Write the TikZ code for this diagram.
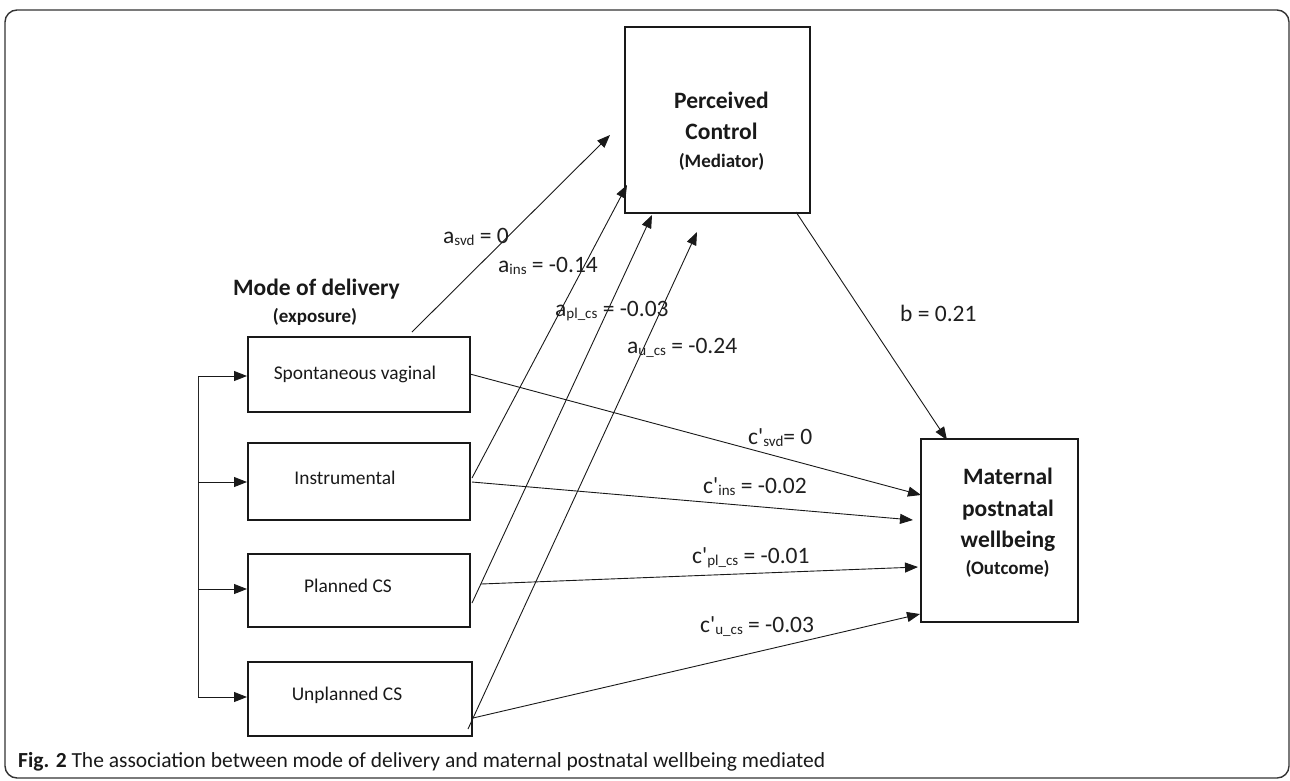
\documentclass[tikz,border=0pt]{standalone}
\usepackage{fontspec}
\setmainfont{Carlito}
\usetikzlibrary{arrows.meta}
\newcommand{\mysub}[1]{\raisebox{-2.5pt}{\fontsize{15}{15}\selectfont #1}}
\tikzset{
  box/.style={draw=black!90, line width=2pt, inner sep=0pt},
  conn/.style={draw=black!90, line width=0.9pt, -{Triangle[length=13pt,width=10pt]}},
  lab/.style={anchor=base west, inner sep=0pt, font=\fontsize{23.5}{28}\selectfont, text=black!88},
  head/.style={anchor=base, inner sep=0pt, font=\bfseries\fontsize{23.5}{28}\selectfont, text=black!90},
  subhead/.style={anchor=base, inner sep=0pt, font=\bfseries\fontsize{19}{23}\selectfont, text=black!90},
  boxtext/.style={anchor=base, inner sep=0pt, font=\fontsize{19.4}{23}\selectfont, text=black!90},
}
\begin{document}
\begin{tikzpicture}[x=1pt,y=-1pt]
\useasboundingbox (0,0) rectangle (1290,780);
\draw[rounded corners=12pt, line width=1.4pt, black!80] (5,10) rectangle (1289,778);

% mediator box
\node[box, minimum width=185pt, minimum height=186pt] (pc) at (717.5,120) {};
\node[head] (pcA) at (721.5,108) {Perceived};
\node[head] (pcB) at (721.5,139) {Control};
\node[subhead] (pcC) at (721.5,167) {(Mediator)};

% outcome box
\node[box, minimum width=157pt, minimum height=183pt] (mw) at (999.5,530.5) {};
\node[head] (mwA) at (1008,484) {Maternal};
\node[head] (mwB) at (1008,516) {postnatal};
\node[head] (mwC) at (1008,547) {wellbeing};
\node[subhead] (mwD) at (1007.5,574) {(Outcome)};

% exposure header
\node[head] (md) at (316.5,295) {Mode of delivery};
\node[subhead] (mdx) at (315,322) {(exposure)};

% exposure boxes
\node[box, minimum width=222pt, minimum height=75pt] (sv) at (359,374.5) {};
\node[box, minimum width=222pt, minimum height=77pt] (in) at (359,481.5) {};
\node[box, minimum width=222pt, minimum height=73pt] (pl) at (359,590.5) {};
\node[box, minimum width=224pt, minimum height=74pt] (un) at (360,699) {};
\node[boxtext] (svT) at (355,379) {Spontaneous vaginal};
\node[boxtext] (inT) at (345,484) {Instrumental};
\node[boxtext] (plT) at (348,592) {Planned CS};
\node[boxtext] (unT) at (347,700) {Unplanned CS};

% bus on the left
\coordinate (b1) at (198,376);
\coordinate (b2) at (198,482);
\coordinate (b3) at (198,589);
\coordinate (b4) at (198,697);
\draw[black!85, line width=0.9pt] (b1) -- (b4);
\draw[conn] (b1) -- (b1 -| sv.west);
\draw[conn] (b2) -- (b2 -| in.west);
\draw[conn] (b3) -- (b3 -| pl.west);
\draw[conn] (b4) -- (b4 -| un.west);

% a paths
\coordinate (aS1) at (412,332); \coordinate (aE1) at (610,135);
\coordinate (aS2) at (472,478); \coordinate (aE2) at (627,185);
\coordinate (aS3) at (472,603); \coordinate (aE3) at (652,215);
\coordinate (aS4) at (468,729); \coordinate (aE4) at (697,232);
\draw[conn] (aS1) -- (aE1);
\draw[conn] (aS2) -- (aE2);
\draw[conn] (aS3) -- (aE3);
\draw[conn] (aS4) -- (aE4);

% c' paths
\coordinate (cS1) at (470,374); \coordinate (cE1) at (921,495);
\coordinate (cS2) at (472,482); \coordinate (cE2) at (913,520);
\coordinate (cS3) at (481,584); \coordinate (cE3) at (918,567);
\coordinate (cS4) at (473,718); \coordinate (cE4) at (920,614);
\draw[conn] (cS1) -- (cE1);
\draw[conn] (cS2) -- (cE2);
\draw[conn] (cS3) -- (cE3);
\draw[conn] (cS4) -- (cE4);

% b path
\coordinate (bS) at (796,212); \coordinate (bE) at (947,440);
\draw[conn] (bS) -- (bE);

% labels
\node[lab] (la1) at (443,243) {a\mysub{svd} = 0};
\node[lab] (la2) at (498,272) {a\mysub{ins} = -0.14};
\node[lab] (la3) at (555,316) {a\mysub{pl\_cs} = -0.03};
\node[lab] (la4) at (627,353) {a\mysub{u\_cs} = -0.24};
\node[lab] (lb) at (900,321) {b = 0.21};
\node[lab] (lc1) at (748,444) {c\textquotesingle\mysub{svd}= 0};
\node[lab] (lc2) at (703,493) {c\textquotesingle\mysub{ins} = -0.02};
\node[lab] (lc3) at (692,563) {c\textquotesingle\mysub{pl\_cs} = -0.01};
\node[lab] (lc4) at (700,632) {c\textquotesingle\mysub{u\_cs} = -0.03};

% caption
\node[anchor=base west, inner sep=0pt, font=\fontsize{21.5}{25}\selectfont, text=black!90] (cap) at (18,767)
  {\textbf{Fig. 2} The association between mode of delivery and maternal postnatal wellbeing mediated};
\end{tikzpicture}
\end{document}
